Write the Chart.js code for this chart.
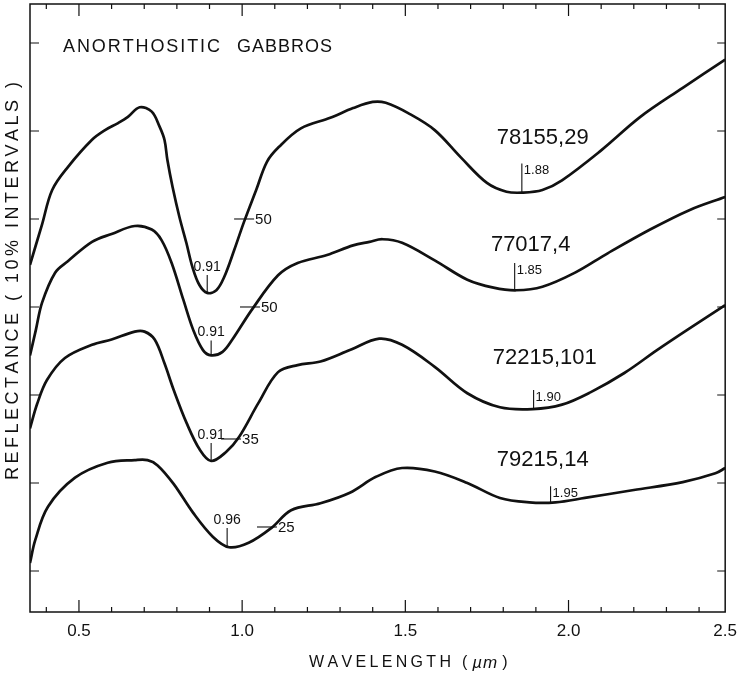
<!DOCTYPE html>
<html>
<head>
<meta charset="utf-8">
<script src="https://cdn.jsdelivr.net/npm/chart.js@4.4.1/dist/chart.umd.min.js"></script>
<style>
  html, body { margin: 0; padding: 0; background: #fff; }
  canvas { display: block; }
</style>
</head>
<body>
<canvas id="spectra" width="746" height="681"></canvas>
<script>
(function(){
  'use strict';

  // --- data: wavelength (um) and reflectance (%) per sample ---
  const sampleNames = ['78155,29', '77017,4', '72215,101', '79215,14'];
  // curves are stacked: plotted value = reflectance - offset
  const sampleOffsets = [10, 20, 20, 20];

  const wl78155 = [0.35, 0.387, 0.418, 0.466, 0.54, 0.58, 0.62, 0.65, 0.686, 0.723, 0.747, 0.762, 0.771, 0.787,
                   0.808, 0.829, 0.848, 0.869, 0.893, 0.921, 0.945, 0.976, 1.006, 1.043, 1.076, 1.113, 1.18, 1.27,
                   1.34, 1.40, 1.44, 1.51, 1.59, 1.67, 1.75, 1.81, 1.86, 1.92, 1.98, 2.10, 2.22, 2.35, 2.48];
  const refl78155 = [44.8, 49.4, 53.3, 55.9, 59.0, 60.1, 60.9, 61.6, 62.7, 62.2, 60.5, 59.0, 56.7, 53.6,
                     50.2, 47.3, 44.5, 42.5, 41.6, 41.9, 43.4, 46.5, 49.7, 53.3, 56.5, 58.2, 60.3, 61.5,
                     62.6, 63.3, 63.2, 62.0, 60.1, 57.0, 54.1, 53.1, 53.0, 53.3, 54.4, 57.8, 61.6, 64.9, 68.1];

  const wl77017 = [0.35, 0.368, 0.387, 0.427, 0.466, 0.54, 0.60, 0.671, 0.723, 0.753, 0.784, 0.82, 0.85, 0.88,
                   0.905, 0.94, 0.97, 1.03, 1.11, 1.17, 1.26, 1.34, 1.39, 1.43, 1.49, 1.59, 1.69, 1.77, 1.84, 1.92,
                   2.02, 2.12, 2.25, 2.37, 2.48];
  const refl77017 = [44.5, 47.4, 50.5, 53.9, 55.2, 57.4, 58.3, 59.2, 58.8, 57.6, 55.0, 50.8, 47.4, 45.1,
                     44.5, 44.9, 46.3, 49.7, 53.6, 55.0, 55.9, 57.0, 57.4, 57.7, 57.3, 55.3, 53.1, 52.2, 51.9, 52.3,
                     53.9, 56.1, 58.8, 61.0, 62.5];

  const wl72215 = [0.35, 0.372, 0.402, 0.457, 0.54, 0.60, 0.671, 0.701, 0.732, 0.762, 0.79, 0.83, 0.87, 0.905,
                   0.95, 0.99, 1.05, 1.11, 1.17, 1.24, 1.33, 1.42, 1.49, 1.59, 1.69, 1.79, 1.89, 1.98, 2.067, 2.171,
                   2.271, 2.372, 2.48];
  const refl72215 = [36.2, 39.0, 41.7, 44.2, 45.7, 46.3, 47.2, 47.2, 46.3, 43.6, 40.6, 36.8, 33.8, 32.5,
                     33.5, 35.2, 39.1, 42.6, 43.4, 43.8, 45.1, 46.4, 45.7, 43.2, 40.2, 38.6, 38.4, 38.9, 40.3, 42.5,
                     45.1, 47.6, 50.2];

  const wl79215 = [0.35, 0.366, 0.405, 0.488, 0.588, 0.671, 0.71, 0.741, 0.79, 0.85, 0.91, 0.96, 1.02,
                   1.09, 1.15, 1.24, 1.33, 1.41, 1.49, 1.59, 1.69, 1.79, 1.88, 1.96, 2.05, 2.20, 2.35, 2.45, 2.48];
  const refl79215 = [20.9, 23.5, 27.3, 30.6, 32.3, 32.6, 32.6, 32.0, 29.9, 26.6, 23.9, 22.7, 23.2,
                     24.9, 26.9, 27.7, 28.9, 30.7, 31.7, 31.3, 30.0, 28.3, 27.8, 27.8, 28.3, 29.2, 30.1, 31.1, 31.7];

  const curveWl = [wl78155, wl77017, wl72215, wl79215];
  const curveRefl = [refl78155, refl77017, refl72215, refl79215];

  // absorption band centres (labels) and where the marks sit on the drawn curves
  const band1Labels = ['0.91', '0.91', '0.91', '0.96'];
  const band1At = [0.893, 0.905, 0.905, 0.954];
  const band2Labels = ['1.88', '1.85', '1.90', '1.95'];
  const band2At = [1.857, 1.835, 1.893, 1.945];

  // reflectance level marks ("-50" etc.)
  const levelValues = [50, 50, 35, 25];
  const levelAt = [1.006, 1.024, 0.966, 1.076];

  // axis ticks
  const xTickAt = [0.5, 1.0, 1.5, 2.0, 2.48];
  const xTickText = ['0.5', '1.0', '1.5', '2.0', '2.5'];
  const yTickAt = [0, 10, 20, 30, 40, 50, 60];

  // --- placement / styling (not data) ---
  const nameX = [1.921, 1.884, 1.927, 1.921];
  const nameY = [49.2, 37.0, 24.2, 12.6];
  const band1Len = [18, 15, 18, 18];
  const band2Len = [29, 27, 19, 16];
  const INK = '#111';
  const FONT = "'Liberation Sans', Arial, sans-serif";

  function plotValueAt(k, x){
    const wl = curveWl[k], r = curveRefl[k];
    for(let i = 0; i < wl.length - 1; i++){
      if(x >= wl[i] && x <= wl[i + 1]){
        const t = (x - wl[i]) / (wl[i + 1] - wl[i]);
        return r[i] + t * (r[i + 1] - r[i]) - sampleOffsets[k];
      }
    }
    return r[r.length - 1] - sampleOffsets[k];
  }

  // draw text with extra spacing between glyphs, returns end x
  function spacedText(ctx, text, x, y, spacing){
    let cx = x;
    for(const ch of text){
      ctx.fillText(ch, cx, y);
      cx += ctx.measureText(ch).width + spacing;
    }
    return cx - spacing;
  }
  function spacingToFit(ctx, text, width){
    let w = 0;
    for(const ch of text) w += ctx.measureText(ch).width;
    return (width - w) / Math.max(1, text.length - 1);
  }

  const framePlugin = {
    id: 'frame',
    beforeDatasetsDraw(chart){
      const { ctx, chartArea: a, scales: { x, y } } = chart;
      ctx.save();
      ctx.strokeStyle = INK;
      ctx.lineWidth = 1.5;
      ctx.strokeRect(a.left, a.top, a.right - a.left, a.bottom - a.top);

      ctx.lineWidth = 1.2;
      ctx.beginPath();
      // x ticks every 0.1 um, pointing inward on bottom and top
      for(let i = 4; i <= 24; i++){
        const px = x.getPixelForValue(i / 10);
        const len = (i % 5 === 0) ? 12 : 5;
        ctx.moveTo(px, a.bottom); ctx.lineTo(px, a.bottom - len);
        ctx.moveTo(px, a.top); ctx.lineTo(px, a.top + len);
      }
      // y ticks at 10% intervals on both sides
      yTickAt.forEach(v => {
        const py = y.getPixelForValue(v);
        ctx.moveTo(a.left, py); ctx.lineTo(a.left + 9, py);
        ctx.moveTo(a.right, py); ctx.lineTo(a.right - 8, py);
      });
      ctx.stroke();
      ctx.restore();
    },
    afterDraw(chart){
      const { ctx, chartArea: a, scales: { x, y } } = chart;
      ctx.save();
      ctx.fillStyle = INK;
      ctx.strokeStyle = INK;

      // panel title
      ctx.font = '18px ' + FONT;
      ctx.textBaseline = 'middle';
      ctx.textAlign = 'left';
      spacedText(ctx, 'ANORTHOSITIC', a.left + 33, a.top + 43, spacingToFit(ctx, 'ANORTHOSITIC', 157));
      spacedText(ctx, 'GABBROS', a.left + 207, a.top + 43, spacingToFit(ctx, 'GABBROS', 95));

      // sample names
      ctx.font = '22px ' + FONT;
      ctx.textAlign = 'center';
      sampleNames.forEach((n, k) => {
        ctx.fillText(n, x.getPixelForValue(nameX[k]), y.getPixelForValue(nameY[k]));
      });

      ctx.lineWidth = 1.1;
      ctx.font = '14px ' + FONT;

      // ~0.9 um band marks: label centred above
      band1At.forEach((b, k) => {
        const px = x.getPixelForValue(b);
        const py = y.getPixelForValue(plotValueAt(k, b));
        ctx.beginPath(); ctx.moveTo(px, py); ctx.lineTo(px, py - band1Len[k]); ctx.stroke();
        ctx.textAlign = 'center';
        ctx.fillText(band1Labels[k], px, py - band1Len[k] - 8);
      });

      // ~1.9 um band marks: label to the right of the top
      ctx.font = '13px ' + FONT;
      band2At.forEach((b, k) => {
        const px = x.getPixelForValue(b);
        const py = y.getPixelForValue(plotValueAt(k, b));
        ctx.beginPath(); ctx.moveTo(px, py); ctx.lineTo(px, py - band2Len[k]); ctx.stroke();
        ctx.textAlign = 'left';
        ctx.fillText(band2Labels[k], px + 2, py - band2Len[k] + 7);
      });

      // reflectance level marks
      ctx.font = '15px ' + FONT;
      levelAt.forEach((lx, k) => {
        const px = x.getPixelForValue(lx);
        const py = y.getPixelForValue(levelValues[k] - sampleOffsets[k]);
        ctx.beginPath(); ctx.moveTo(px - 10, py); ctx.lineTo(px + 10, py); ctx.stroke();
        ctx.textAlign = 'left';
        ctx.fillText(String(levelValues[k]), px + 11, py + 1);
      });

      // y axis title
      ctx.save();
      ctx.font = '18px ' + FONT;
      ctx.translate(13, 480);
      ctx.rotate(-Math.PI / 2);
      const yTitle = 'REFLECTANCE ( 10% INTERVALS )';
      ctx.textAlign = 'left';
      spacedText(ctx, yTitle, 0, 0, spacingToFit(ctx, yTitle, 398));
      ctx.restore();

      // x axis title
      ctx.font = '16px ' + FONT;
      ctx.textAlign = 'left';
      let cx = spacedText(ctx, 'WAVELENGTH', 309, 663, spacingToFit(ctx, 'WAVELENGTH', 142));
      cx = spacedText(ctx, '(', cx + 11, 663, 0);
      ctx.font = 'italic 17px ' + FONT;
      cx = spacedText(ctx, 'µm', cx + 5, 663, 1);
      ctx.font = '16px ' + FONT;
      spacedText(ctx, ')', cx + 5, 663, 0);

      ctx.restore();
    }
  };

  const datasets = sampleNames.map((name, k) => ({
    label: name,
    data: curveWl[k].map((w, i) => ({ x: w, y: curveRefl[k][i] - sampleOffsets[k] })),
    borderColor: INK,
    borderWidth: 2.7,
    pointRadius: 0,
    fill: false,
    tension: 0.35
  }));

  new Chart(document.getElementById('spectra'), {
    type: 'line',
    data: { datasets },
    options: {
      responsive: false,
      animation: false,
      devicePixelRatio: 1,
      layout: { padding: { top: 4, right: 18, left: 0, bottom: 0 } },
      plugins: { legend: { display: false }, tooltip: { enabled: false } },
      scales: {
        x: {
          type: 'linear',
          min: 0.35,
          max: 2.48,
          afterBuildTicks: s => { s.ticks = xTickAt.map(v => ({ value: v })); },
          afterFit: s => { s.height = 69; },
          ticks: {
            autoSkip: false,
            maxRotation: 0,
            padding: 9,
            color: INK,
            font: { family: FONT, size: 17 },
            callback: v => xTickText[xTickAt.indexOf(v)]
          },
          grid: { display: false, drawTicks: false },
          border: { display: false }
        },
        y: {
          type: 'linear',
          min: -4.66,
          max: 64.43,
          afterFit: s => { s.width = 30; },
          ticks: { display: false },
          grid: { display: false, drawTicks: false },
          border: { display: false }
        }
      }
    },
    plugins: [framePlugin]
  });
})();
</script>
</body>
</html>
